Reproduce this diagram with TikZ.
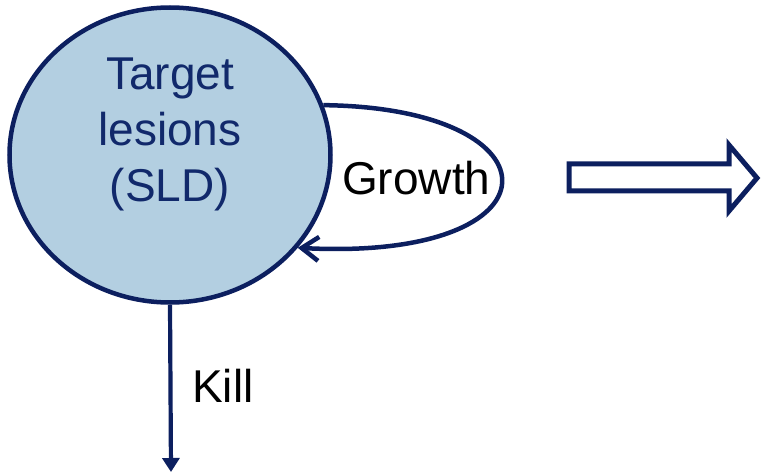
\documentclass[tikz,border=0pt]{standalone}
\usepackage{fontspec}
\setmainfont{Liberation Sans}
\usetikzlibrary{shapes.geometric,arrows.meta}
\definecolor{navy}{HTML}{0C1F5F}
\definecolor{navytext}{HTML}{11296B}
\definecolor{lesionfill}{HTML}{B3CFE1}
\tikzset{
  bigtext/.style={font=\fontsize{46}{56}\selectfont, inner sep=0pt},
  conn/.style={draw=navy, line width=4.5pt},
}
\begin{document}
\begin{tikzpicture}[x=1pt,y=1pt]
\useasboundingbox (0,0) rectangle (761,-476);
\node[ellipse, draw=navy, fill=lesionfill, line width=4.5pt,
      minimum width=321pt, minimum height=295pt, inner sep=0pt]
      (lesion) at (170,-155) {};
\node[bigtext, text=navytext, align=center] (lesiontext) at (170,-134)
      {Target\\lesions\\(SLD)};
\draw[conn, -{Straight Barb[length=17pt,width=24pt,line width=4.5pt]}]
      (lesion.18) .. controls (565,-108) and (565,-262) .. (lesion.-36);
\node[bigtext, anchor=base west] (growth) at (342,-195) {Growth};
\coordinate (killend) at (171,-472);
\draw[conn, line width=4.2pt, -{Triangle[length=14pt,width=17pt]}] (lesion.south) -- (killend);
\node[bigtext, anchor=base west] (kill) at (192,-402) {Kill};
\draw[navy, line width=5pt, line join=miter, fill=white]
  (569,-164) coordinate (hollowtail) -- (729,-164) -- (729,-145) -- (757,-178)
  -- (729,-211) -- (729,-191) -- (569,-191) -- cycle;
\end{tikzpicture}
\end{document}
